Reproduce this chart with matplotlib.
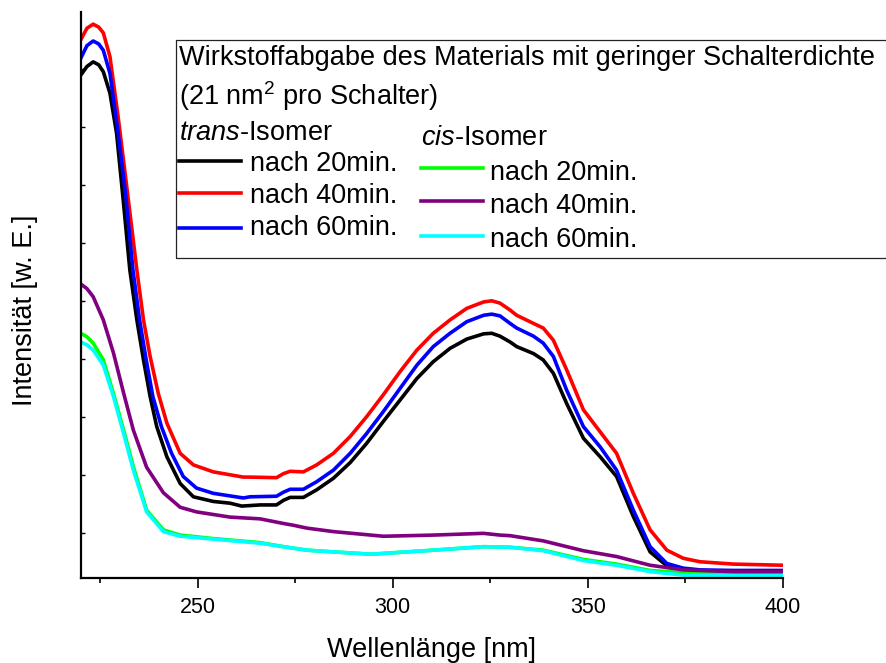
import matplotlib
matplotlib.use("Agg")
import matplotlib.pyplot as plt
from matplotlib.lines import Line2D
from matplotlib.patches import Rectangle
import numpy as np

plt.rcParams['font.family'] = ['Liberation Sans', 'DejaVu Sans']
plt.rcParams['mathtext.fontset'] = 'custom'
plt.rcParams['mathtext.rm'] = 'Liberation Sans'
plt.rcParams['mathtext.it'] = 'Liberation Sans:italic'

# ---- data ----
x_trans20 = [220, 221.6, 223.2, 224.6, 225.8, 227.5, 229.2, 230.9, 232.6, 234.4, 236.1, 237.8, 239.5, 242.1, 245.5,
             248.9, 254.0, 258.3, 261.3, 266.0, 270.2, 272.0, 273.7, 277.1, 280.5, 284.8, 289.1, 293.3,
             297.6, 301.9, 306.2, 310.4, 314.7, 319.0, 323.3, 325.4, 327.5, 330.1, 331.8, 336.1, 338.6,
             341.2, 344.6, 348.9, 353.2, 357.4, 361.7, 366.0, 370.3, 374.5, 378.8, 387.3, 400]
y_trans20 = [0.867, 0.882, 0.890, 0.885, 0.873, 0.836, 0.767, 0.652, 0.531, 0.445, 0.376, 0.313, 0.261, 0.209, 0.163,
             0.140, 0.132, 0.129, 0.124, 0.126, 0.126, 0.134, 0.139, 0.139, 0.152, 0.172, 0.199, 0.232,
             0.270, 0.307, 0.344, 0.373, 0.396, 0.412, 0.421, 0.422, 0.417, 0.407, 0.399, 0.387, 0.376,
             0.353, 0.301, 0.241, 0.209, 0.175, 0.106, 0.045, 0.021, 0.014, 0.011, 0.010, 0.009]

x_trans40 = [220, 221.6, 223.2, 224.6, 225.8, 227.5, 229.6, 231.8, 234.4, 236.1, 237.8, 239.9, 242.1, 245.5, 248.9,
             254.0, 261.7, 263.4, 270.2, 272.0, 273.7, 277.1, 280.5, 284.8, 289.1, 293.3, 297.6, 301.9,
             306.2, 310.4, 314.7, 319.0, 323.3, 325.4, 327.5, 330.1, 331.8, 336.1, 338.6, 341.2, 344.6,
             348.9, 353.2, 357.4, 361.7, 366.0, 370.3, 374.5, 378.8, 387.3, 400]
y_trans40 = [0.928, 0.948, 0.955, 0.950, 0.940, 0.899, 0.795, 0.675, 0.531, 0.445, 0.382, 0.318, 0.267, 0.215, 0.195,
             0.183, 0.174, 0.174, 0.173, 0.180, 0.184, 0.183, 0.195, 0.215, 0.244, 0.278, 0.316, 0.356,
             0.393, 0.422, 0.445, 0.465, 0.476, 0.478, 0.474, 0.462, 0.453, 0.439, 0.431, 0.410, 0.359,
             0.290, 0.252, 0.215, 0.146, 0.083, 0.048, 0.034, 0.028, 0.024, 0.022]

x_trans60 = [220, 221.6, 223.2, 224.6, 225.8, 227.5, 229.4, 231.5, 233.4, 235.1, 236.8, 238.5, 240.7, 243.3, 246.3,
             249.7, 254.0, 261.7, 263.4, 270.2, 272.0, 273.7, 277.1, 280.5, 284.8, 289.1, 293.3, 297.6,
             301.9, 306.2, 310.4, 314.7, 319.0, 323.3, 325.4, 327.5, 330.1, 331.8, 336.1, 338.6, 341.2,
             344.6, 348.9, 353.2, 357.4, 361.7, 366.0, 370.3, 374.5, 378.8, 387.3, 400]
y_trans60 = [0.896, 0.918, 0.926, 0.921, 0.910, 0.870, 0.778, 0.663, 0.531, 0.445, 0.376, 0.313, 0.261, 0.215, 0.175,
             0.155, 0.146, 0.138, 0.140, 0.141, 0.148, 0.153, 0.153, 0.166, 0.186, 0.215, 0.249, 0.287,
             0.327, 0.367, 0.399, 0.422, 0.442, 0.453, 0.455, 0.452, 0.439, 0.431, 0.417, 0.405, 0.382,
             0.324, 0.261, 0.226, 0.186, 0.117, 0.054, 0.025, 0.017, 0.014, 0.013, 0.013]

x_cis40 = [220, 221.6, 223.2, 225.8, 228.4, 231.0, 233.5, 236.9, 241.2, 245.5, 249.7, 258.3, 266.0, 272.0,
           274.5, 278.0, 284.8, 297.6, 310.4, 323.3, 327.5, 330.1, 338.6, 348.9, 357.4, 366.0, 374.5,
           387.3, 400]
y_cis40 = [0.507, 0.499, 0.485, 0.445, 0.388, 0.319, 0.255, 0.191, 0.147, 0.122, 0.114, 0.105, 0.102, 0.094,
           0.091, 0.086, 0.080, 0.072, 0.074, 0.077, 0.074, 0.073, 0.064, 0.047, 0.037, 0.022, 0.014,
           0.011, 0.011]

x_cis = [220, 221.6, 223.2, 225.8, 228.4, 231.0, 233.5, 236.9, 241.2, 245.5, 254.0, 266.0, 272.0, 278.0,
         284.8, 294.5, 310.4, 323.3, 330.1, 338.6, 348.9, 357.4, 366.0, 374.5, 387.3, 400]
y_cis20 = [0.422, 0.416, 0.405, 0.376, 0.318, 0.255, 0.192, 0.117, 0.083, 0.074, 0.068, 0.061, 0.054, 0.048,
           0.045, 0.041, 0.048, 0.054, 0.053, 0.048, 0.032, 0.024, 0.013, 0.009, 0.008, 0.008]
y_cis60 = [0.407, 0.402, 0.393, 0.367, 0.313, 0.249, 0.186, 0.114, 0.080, 0.072, 0.067, 0.060, 0.054, 0.048,
           0.045, 0.041, 0.048, 0.054, 0.053, 0.047, 0.030, 0.022, 0.011, 0.005, 0.004, 0.004]

x_ticks = [250, 300, 350, 400]
x_minor = [225, 275, 325, 375]

legend_header = ["Wirkstoffabgabe des Materials mit geringer Schalterdichte",
                 r"(21 nm$^{\mathregular{2}}$ pro Schalter)"]
trans_labels = ["nach 20min.", "nach 40min.", "nach 60min."]
cis_labels = ["nach 20min.", "nach 40min.", "nach 60min."]
trans_colors = ["#000000", "#ff0000", "#0000ff"]
cis_colors = ["#00ff00", "#800080", "#00ffff"]

W, H = 887, 663
fig = plt.figure(figsize=(W / 100, H / 100), dpi=100)
ax = fig.add_axes([80.7 / W, 85 / H, 702 / W, 566 / H])

lw = 2.6
ax.plot(x_trans20, y_trans20, color=trans_colors[0], lw=lw)
ax.plot(x_trans40, y_trans40, color=trans_colors[1], lw=lw)
ax.plot(x_trans60, y_trans60, color=trans_colors[2], lw=lw)
ax.plot(x_cis, y_cis20, color=cis_colors[0], lw=lw)
ax.plot(x_cis40, y_cis40, color=cis_colors[1], lw=lw)
ax.plot(x_cis, y_cis60, color=cis_colors[2], lw=lw)

ax.set_xlim(220, 400)
ax.set_ylim(0, 0.976)
ax.spines['top'].set_visible(False)
ax.spines['right'].set_visible(False)
for s in ('left', 'bottom'):
    ax.spines[s].set_linewidth(1.6)
ax.set_xticks(x_ticks)
ax.set_xticks(x_minor, minor=True)
ax.tick_params(axis='x', which='major', direction='out', length=7.5, width=1.2,
               labelsize=15.5, pad=6)
ax.tick_params(axis='x', which='minor', direction='out', length=3.8, width=1.2)
ax.set_yticks(np.arange(0.0776, 0.97, 0.1))
ax.tick_params(axis='y', which='major', direction='in', length=3, width=1.0,
               labelleft=False)

fs = 19.5
fig.text(431.7 / W, 1 - 657 / H, "Wellenlänge [nm]", ha='center', va='baseline', fontsize=fs)
fig.text(25 / W, 1 - 310 / H, "Intensität [w. E.]", ha='center', va='center',
         rotation=90, fontsize=fs)

# legend box
fig.patches.append(Rectangle((176 / W, 1 - 258 / H), 800 / W, (258 - 40) / H,
                             transform=fig.transFigure, fill=False, lw=0.9,
                             edgecolor='#222222'))

def ftxt(px, py, s, **kw):
    fig.text(px / W, 1 - py / H, s, ha='left', va='baseline', fontsize=fs, **kw)

ftxt(179, 64.7, legend_header[0])
ftxt(179, 104.7, legend_header[1])
ftxt(179, 139.7, r"$\it{trans}$-Isomer")
ftxt(421, 144.7, r"$\it{cis}$-Isomer")

for i, (lab, col) in enumerate(zip(trans_labels, trans_colors)):
    ly = [161, 193, 228][i]
    ty = [170.7, 202.7, 234.7][i]
    fig.lines.append(Line2D([179 / W, 241 / W], [1 - ly / H, 1 - ly / H],
                            transform=fig.transFigure, color=col, lw=2.6))
    ftxt(250, ty, lab)
for i, (lab, col) in enumerate(zip(cis_labels, cis_colors)):
    ly = [168, 201, 236][i]
    ty = [179.7, 212.7, 246.7][i]
    fig.lines.append(Line2D([421.5 / W, 483 / W], [1 - ly / H, 1 - ly / H],
                            transform=fig.transFigure, color=col, lw=2.6))
    ftxt(490, ty, lab)

fig.savefig("out.png", dpi=100)
